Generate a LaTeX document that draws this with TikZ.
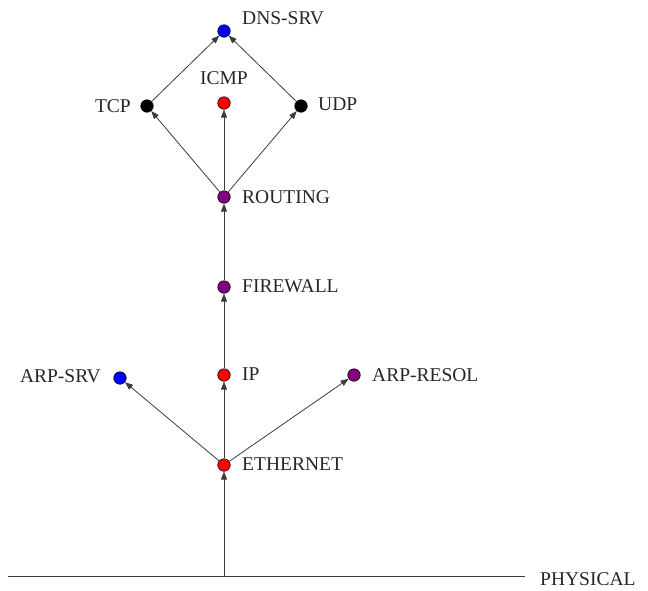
\documentclass[tikz,border=0pt]{standalone}
\usepackage{fontspec}
\setmainfont{Liberation Serif}
\usetikzlibrary{arrows.meta}
\definecolor{dotpurple}{RGB}{128,0,128}
\definecolor{linegray}{RGB}{60,60,60}
\tikzset{
  dot/.style={circle,draw=black,line width=0.6pt,minimum size=12.5pt,inner sep=0pt},
  lbl/.style={font=\fontsize{19.5}{22}\selectfont,text=black!85,inner sep=0pt},
  conn/.style={draw=linegray,line width=0.8pt,-{Triangle[length=8pt,width=6pt]}}
}
\begin{document}
\begin{tikzpicture}[x=1pt,y=-1pt]
\useasboundingbox (0,0) rectangle (648,590);
% nodes
\node[dot,fill=blue] (dns) at (224,31) {};
\node[dot,fill=black] (tcp) at (147,106) {};
\node[dot,fill=red] (icmp) at (224,103) {};
\node[dot,fill=black] (udp) at (301,106) {};
\node[dot,fill=dotpurple] (routing) at (224,197) {};
\node[dot,fill=dotpurple] (firewall) at (224,287) {};
\node[dot,fill=red] (ip) at (224,375) {};
\node[dot,fill=blue] (arpsrv) at (120,378) {};
\node[dot,fill=dotpurple] (arpresol) at (354,375) {};
\node[dot,fill=red] (eth) at (224,465) {};
\coordinate (phyl) at (8,576);
\coordinate (phyr) at (525,576);
\coordinate (phyc) at (224,576);
% labels
\node[lbl,anchor=west] (ldns) at (242,18) {DNS-SRV};
\node[lbl,anchor=east] (ltcp) at (131,106) {TCP};
\node[lbl] (licmp) at (224,78) {ICMP};
\node[lbl,anchor=west] (ludp) at (318,104) {UDP};
\node[lbl,anchor=west] (lrouting) at (242,197) {ROUTING};
\node[lbl,anchor=west] (lfirewall) at (242,286) {FIREWALL};
\node[lbl,anchor=west] (lip) at (242,374) {IP};
\node[lbl,anchor=east] (larpsrv) at (101,376) {ARP-SRV};
\node[lbl,anchor=west] (larpresol) at (372,375) {ARP-RESOL};
\node[lbl,anchor=west] (leth) at (242,464) {ETHERNET};
\node[lbl,anchor=west] (lphy) at (540,579) {PHYSICAL};
% connectors
\draw[draw=linegray,line width=0.8pt] (phyl) -- (phyr);
\draw[conn] (phyc) -- (eth);
\draw[conn] (eth) -- (ip);
\draw[conn] (eth) -- (arpsrv);
\draw[conn] (eth) -- (arpresol);
\draw[conn] (ip) -- (firewall);
\draw[conn] (firewall) -- (routing);
\draw[conn] (routing) -- (tcp);
\draw[conn] (routing) -- (icmp);
\draw[conn] (routing) -- (udp);
\draw[conn] (tcp) -- (dns);
\draw[conn] (udp) -- (dns);
\end{tikzpicture}
\end{document}
